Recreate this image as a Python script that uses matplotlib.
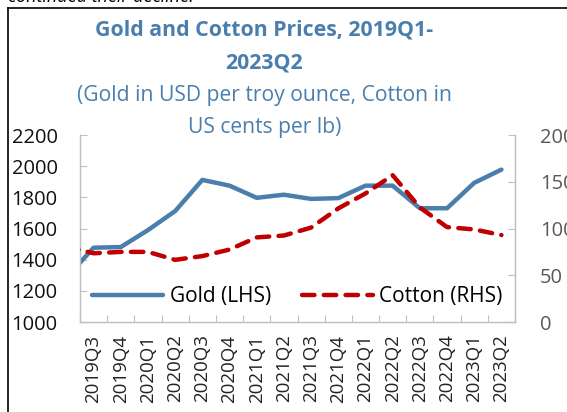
import matplotlib
matplotlib.use('Agg')
import matplotlib.pyplot as plt
from matplotlib.lines import Line2D

plt.rcParams['font.family'] = ['Open Sans', 'DejaVu Sans']

quarters = ['2019Q2', '2019Q3', '2019Q4', '2020Q1', '2020Q2', '2020Q3', '2020Q4',
            '2021Q1', '2021Q2', '2021Q3', '2021Q4', '2022Q1', '2022Q2', '2022Q3',
            '2022Q4', '2023Q1', '2023Q2']
gold = [1285, 1477, 1481, 1590, 1712, 1912, 1875, 1797, 1817, 1790, 1795,
        1875, 1875, 1730, 1730, 1893, 1978]
cotton = [80.5, 73.5, 75, 75, 66.5, 70.5, 77.5, 90.5, 92.5, 101, 121.5,
          137.5, 157, 122.5, 101.5, 99, 93]

blue = '#4a7eac'
red = '#c00000'
grey = '#bfbfbf'

fig = plt.figure(figsize=(5.67, 4.12), dpi=100)
ax = fig.add_axes([0.1411, 0.2184, 0.9083 - 0.1411, 0.6723 - 0.2184])
ax2 = ax.twinx()

x = list(range(len(quarters)))
ax.plot(x, gold, color=blue, lw=3.2, solid_capstyle='round', label='Gold (LHS)', zorder=3)
ax2.plot(x, cotton, color=red, lw=3.2, dashes=(2.8, 2.1), dash_capstyle='round',
         label='Cotton (RHS)', zorder=3)

ax.set_xlim(0.5, len(quarters) - 0.5)
ax.set_ylim(1000, 2200)
ax2.set_ylim(0, 200)
ax.set_yticks(range(1000, 2201, 200))
ax2.set_yticks(range(0, 201, 50))

# boundaries get the tick marks, centres get the labels
ax.set_xticks([i + 0.5 for i in range(len(quarters))])
ax.set_xticks(x[1:], minor=True)
ax.set_xticklabels([])
ax.set_xticklabels(quarters[1:], minor=True, rotation=90)

ax.tick_params(axis='x', which='major', direction='in', length=5, color=grey, width=0.8)
ax.tick_params(axis='x', which='minor', length=0, pad=9, labelsize=13.5, labelcolor='#222222')
ax.tick_params(axis='y', direction='in', length=5, color=grey, width=0.8, pad=16,
               labelsize=14.5, labelcolor='#111111')
ax2.tick_params(axis='y', direction='in', length=5, color=grey, width=0.8, pad=18,
                labelsize=14.5, labelcolor='#595959')

for a in (ax, ax2):
    a.spines['top'].set_visible(False)
    for s in ('left', 'right', 'bottom'):
        a.spines[s].set_color(grey)
        a.spines[s].set_linewidth(0.9)

handles = ax.get_lines() + ax2.get_lines()
ax.legend(handles, [h.get_label() for h in handles], ncol=2, frameon=False,
          loc='center', bbox_to_anchor=(0.5, 0.134), fontsize=15,
          handlelength=3.4, handletextpad=0.3, columnspacing=1.5,
          borderpad=0, borderaxespad=0)

fig.text(0.466, 1 - 30 / 412, 'Gold and Cotton Prices, 2019Q1-', ha='center', va='center',
         color=blue, fontsize=15.3, fontweight='bold')
fig.text(0.466, 1 - 63 / 412, '2023Q2', ha='center', va='center',
         color=blue, fontsize=15.3, fontweight='bold')
fig.text(0.466, 1 - 96 / 412, '(Gold in USD per troy ounce, Cotton in', ha='center',
         va='center', color=blue, fontsize=15.2)
fig.text(0.466, 1 - 128 / 412, 'US cents per lb)', ha='center', va='center',
         color=blue, fontsize=15.2)

# surrounding text and box edge
fig.text(8 / 567, 1 - 2.5 / 412, 'continued their decline.', ha='left', va='baseline',
         fontsize=13, style='italic', color='black')
bx, by = 8 / 567, 1 - 8 / 412
fig.add_artist(Line2D([bx, bx], [0, by], color='black', lw=1.2))
fig.add_artist(Line2D([bx, 1], [by, by], color='black', lw=1.2))

fig.savefig('out.png', dpi=100)
